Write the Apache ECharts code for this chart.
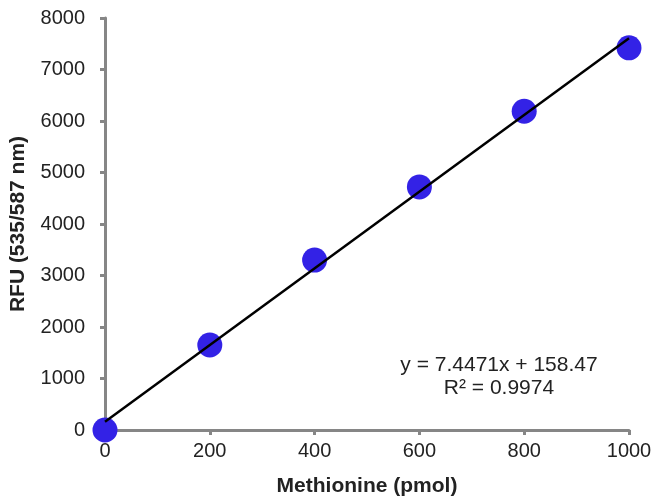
<!DOCTYPE html>
<html>
<head>
<meta charset="utf-8">
<script src="https://cdn.jsdelivr.net/npm/echarts@6/dist/echarts.min.js"></script>
<style>
  html, body { margin: 0; padding: 0; background: #fff; }
  #chart { width: 654px; height: 502px; }
</style>
</head>
<body>
<div id="chart"></div>
<script>
// measured points
const methionine = [0, 200, 400, 600, 800, 1000];
const rfu = [0, 1650, 3300, 4720, 6190, 7420];
// trendline endpoints, from the printed fit y = 7.4471x + 158.47
const fitX = [0, 1000];
const fitY = [158.47, 7605.57];
const eqLines = ["y = 7.4471x + 158.47", "R² = 0.9974"];

const chart = echarts.init(document.getElementById("chart"));
const axisColor = "#868686";
const font = "Liberation Sans, Arial, sans-serif";

chart.setOption({
  animation: false,
  grid: { left: 105, right: 25, top: 18, bottom: 72, outerBoundsMode: "none", containLabel: false },
  xAxis: {
    type: "value",
    min: 0, max: 1000, interval: 200,
    name: "Methionine (pmol)",
    nameLocation: "middle",
    nameGap: 46,
    nameTextStyle: { fontFamily: font, fontSize: 21, fontWeight: "bold", color: "#222" },
    axisLine: { lineStyle: { color: axisColor, width: 3 } },
    axisTick: { show: true, length: 5, lineStyle: { color: axisColor, width: 3 } },
    axisLabel: { fontFamily: font, fontSize: 20, color: "#222", margin: 11, formatter: v => String(v) },
    splitLine: { show: false },
  },
  yAxis: {
    type: "value",
    min: 0, max: 8000, interval: 1000,
    name: "RFU (535/587 nm)",
    nameLocation: "middle",
    nameGap: 76,
    nameRotate: 90,
    nameTextStyle: { fontFamily: font, fontSize: 21, fontWeight: "bold", color: "#222" },
    axisLine: { show: true, lineStyle: { color: axisColor, width: 3 } },
    axisTick: { show: true, length: 5, lineStyle: { color: axisColor, width: 3 } },
    axisLabel: { fontFamily: font, fontSize: 20, color: "#222", margin: 20, formatter: v => String(v) },
    splitLine: { show: false },
  },
  series: [
    {
      type: "scatter",
      data: methionine.map((x, i) => [x, rfu[i]]),
      symbolSize: 25,
      itemStyle: { color: "#3322E6", opacity: 1 },
      z: 2,
    },
    {
      type: "line",
      data: fitX.map((x, i) => [x, fitY[i]]),
      symbol: "none",
      lineStyle: { color: "#000", width: 2.5 },
      z: 3,
    },
  ],
  graphic: eqLines.map((t, i) => ({
    type: "text",
    x: 499,
    y: 365 + i * 23,
    style: {
      text: t,
      font: "21px " + font,
      fill: "#222",
      align: "center",
      verticalAlign: "middle",
    },
  })),
});
</script>
</body>
</html>
